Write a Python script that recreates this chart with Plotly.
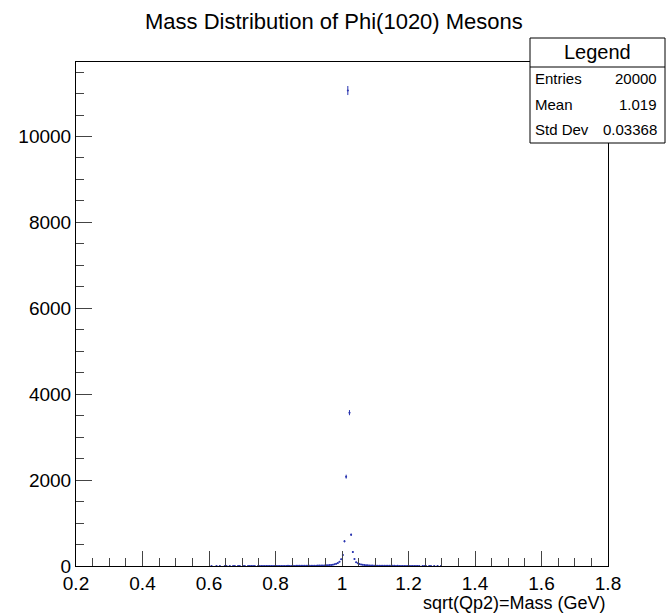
import numpy as np
import plotly.graph_objects as go

# ---- data ----
bin_width = 0.005
first_center = 0.6025
counts = (
    [0, 1, 0, 0, 1, 0, 1, 0, 0, 1, 1, 0, 1, 0, 1, 1, 0, 1, 1, 0]          # 0.60-0.70
    + [1, 1, 0, 1, 1, 2, 1, 1, 0, 1, 2, 1, 1, 1, 2, 1, 1, 2, 1, 1]        # 0.70-0.80
    + [2, 1, 2, 2, 1, 2, 2, 3, 2, 2, 3, 2, 3, 3, 4, 3, 4, 4, 3, 5]        # 0.80-0.90
    + [5, 6, 6, 7, 8, 9, 10, 11, 12, 13]                                  # 0.90-0.95
    + [15, 18, 21, 26, 31, 39, 51, 68]                                    # 0.95-0.99
    + [100, 156, 256, 575, 2080, 11070, 3570, 730, 326, 163, 86]          # 0.99-1.045
    + [62, 45, 34, 27, 22, 18, 15, 13, 11]                                # 1.045-1.09
    + [10, 8]                                                             # 1.09-1.10
    + [7, 7, 6, 5, 5, 5, 4, 4, 3, 3]                                      # 1.10-1.15
    + [3, 3, 2, 3, 2, 2, 2, 2, 2, 1]                                      # 1.15-1.20
    + [2, 1, 1, 2, 1, 1, 1, 0, 1, 1, 1, 0, 1, 1, 0, 1, 0, 1, 0, 1]        # 1.20-1.30
)
centers = [round(first_center + i * bin_width, 4) for i in range(len(counts))]

title_text = "Mass Distribution of Phi(1020) Mesons"
x_title = "sqrt(Qp2)=Mass (GeV)"
stats_labels = ["Entries", "Mean", "Std Dev"]
stats_values = ["20000", "1.019", "0.03368"]
x_range = [0.2, 1.8]
x_ticks = [0.2, 0.4, 0.6, 0.8, 1.0, 1.2, 1.4, 1.6, 1.8]
x_ticktext = ["0.2", "0.4", "0.6", "0.8", "1", "1.2", "1.4", "1.6", "1.8"]
y_ticks = [0, 2000, 4000, 6000, 8000, 10000]
y_ticktext = ["0", "2000", "4000", "6000", "8000", "10000"]

# keep non-empty bins only (ROOT does not draw empty bins with E)
xs = [c for c, n in zip(centers, counts) if n > 0]
ys = [n for n in counts if n > 0]
errs = [float(np.sqrt(n)) for n in ys]
ymax = 1.05 * max(n + np.sqrt(n) for n in ys)

W, H = 667, 613
L, R, T, B = 76, 608, 62, 566
FONT = "Liberation Sans, Arial, sans-serif"
col = "#2a35b0"

fig = go.Figure()
fig.add_trace(go.Scatter(
    x=xs, y=ys, mode="markers",
    marker=dict(color=col, size=2),
    error_y=dict(type="data", array=errs, color=col, thickness=1, width=0),
    error_x=dict(type="constant", value=bin_width / 2, color="rgba(42,53,176,0.6)", thickness=1, width=0),
    showlegend=False, hoverinfo="x+y",
))

def px(xp):
    return (xp - L) / (R - L)

def py(yp):
    return (B - yp) / (B - T)

# stats box
bx0, bx1, by0, by1, bdiv = 530, 665, 38, 143, 67
shapes = [
    dict(type="rect", xref="paper", yref="paper", x0=px(bx0), x1=px(bx1), y0=py(by1), y1=py(by0),
         line=dict(color="black", width=1), fillcolor="white", layer="above"),
    dict(type="line", xref="paper", yref="paper", x0=px(bx0), x1=px(bx1), y0=py(bdiv), y1=py(bdiv),
         line=dict(color="black", width=1), layer="above"),
]
annotations = [
    dict(text=title_text, xref="paper", yref="paper", x=px(334), y=py(21), xanchor="center", yanchor="middle",
         showarrow=False, font=dict(family=FONT, size=22, color="black")),
    dict(text=x_title, xref="paper", yref="paper", x=1.0, y=py(603), xanchor="right", yanchor="middle",
         showarrow=False, font=dict(family=FONT, size=18, color="black")),
    dict(text="Legend", xref="paper", yref="paper", x=px((bx0 + bx1) / 2), y=py(52), xanchor="center",
         yanchor="middle", showarrow=False, font=dict(family=FONT, size=20, color="black")),
]
row_y = [78, 104, 129]
for lab, val, ry in zip(stats_labels, stats_values, row_y):
    annotations.append(dict(text=lab, xref="paper", yref="paper", x=px(533), y=py(ry), xanchor="left",
                            yanchor="middle", showarrow=False, font=dict(family=FONT, size=15, color="black")))
    annotations.append(dict(text=val, xref="paper", yref="paper", x=px(659), y=py(ry), xanchor="right",
                            yanchor="middle", showarrow=False, font=dict(family=FONT, size=15, color="black")))

fig.update_layout(
    width=W, height=H,
    margin=dict(l=L, r=W - R, t=T, b=H - B, pad=0),
    paper_bgcolor="white", plot_bgcolor="white",
    font=dict(family=FONT, size=19, color="black"),
    shapes=shapes, annotations=annotations,
    xaxis=dict(range=x_range, tickmode="array", tickvals=x_ticks, ticktext=x_ticktext,
               ticks="inside", ticklen=15, tickwidth=1, tickcolor="#444",
               minor=dict(ticks="inside", ticklen=8, dtick=0.05, tick0=0.2, tickcolor="#444", showgrid=False),
               showline=True, linecolor="black", linewidth=1, mirror=True,
               showgrid=False, zeroline=False, tickfont=dict(size=19)),
    yaxis=dict(range=[0, ymax], tickmode="array", tickvals=y_ticks, ticktext=y_ticktext,
               ticks="inside", ticklen=16, tickwidth=1, tickcolor="#444",
               minor=dict(ticks="inside", ticklen=8, dtick=500, tick0=0, tickcolor="#444", showgrid=False),
               showline=True, linecolor="black", linewidth=1, mirror=True,
               showgrid=False, zeroline=False, tickfont=dict(size=19)),
)

fig.write_html("out.html")
